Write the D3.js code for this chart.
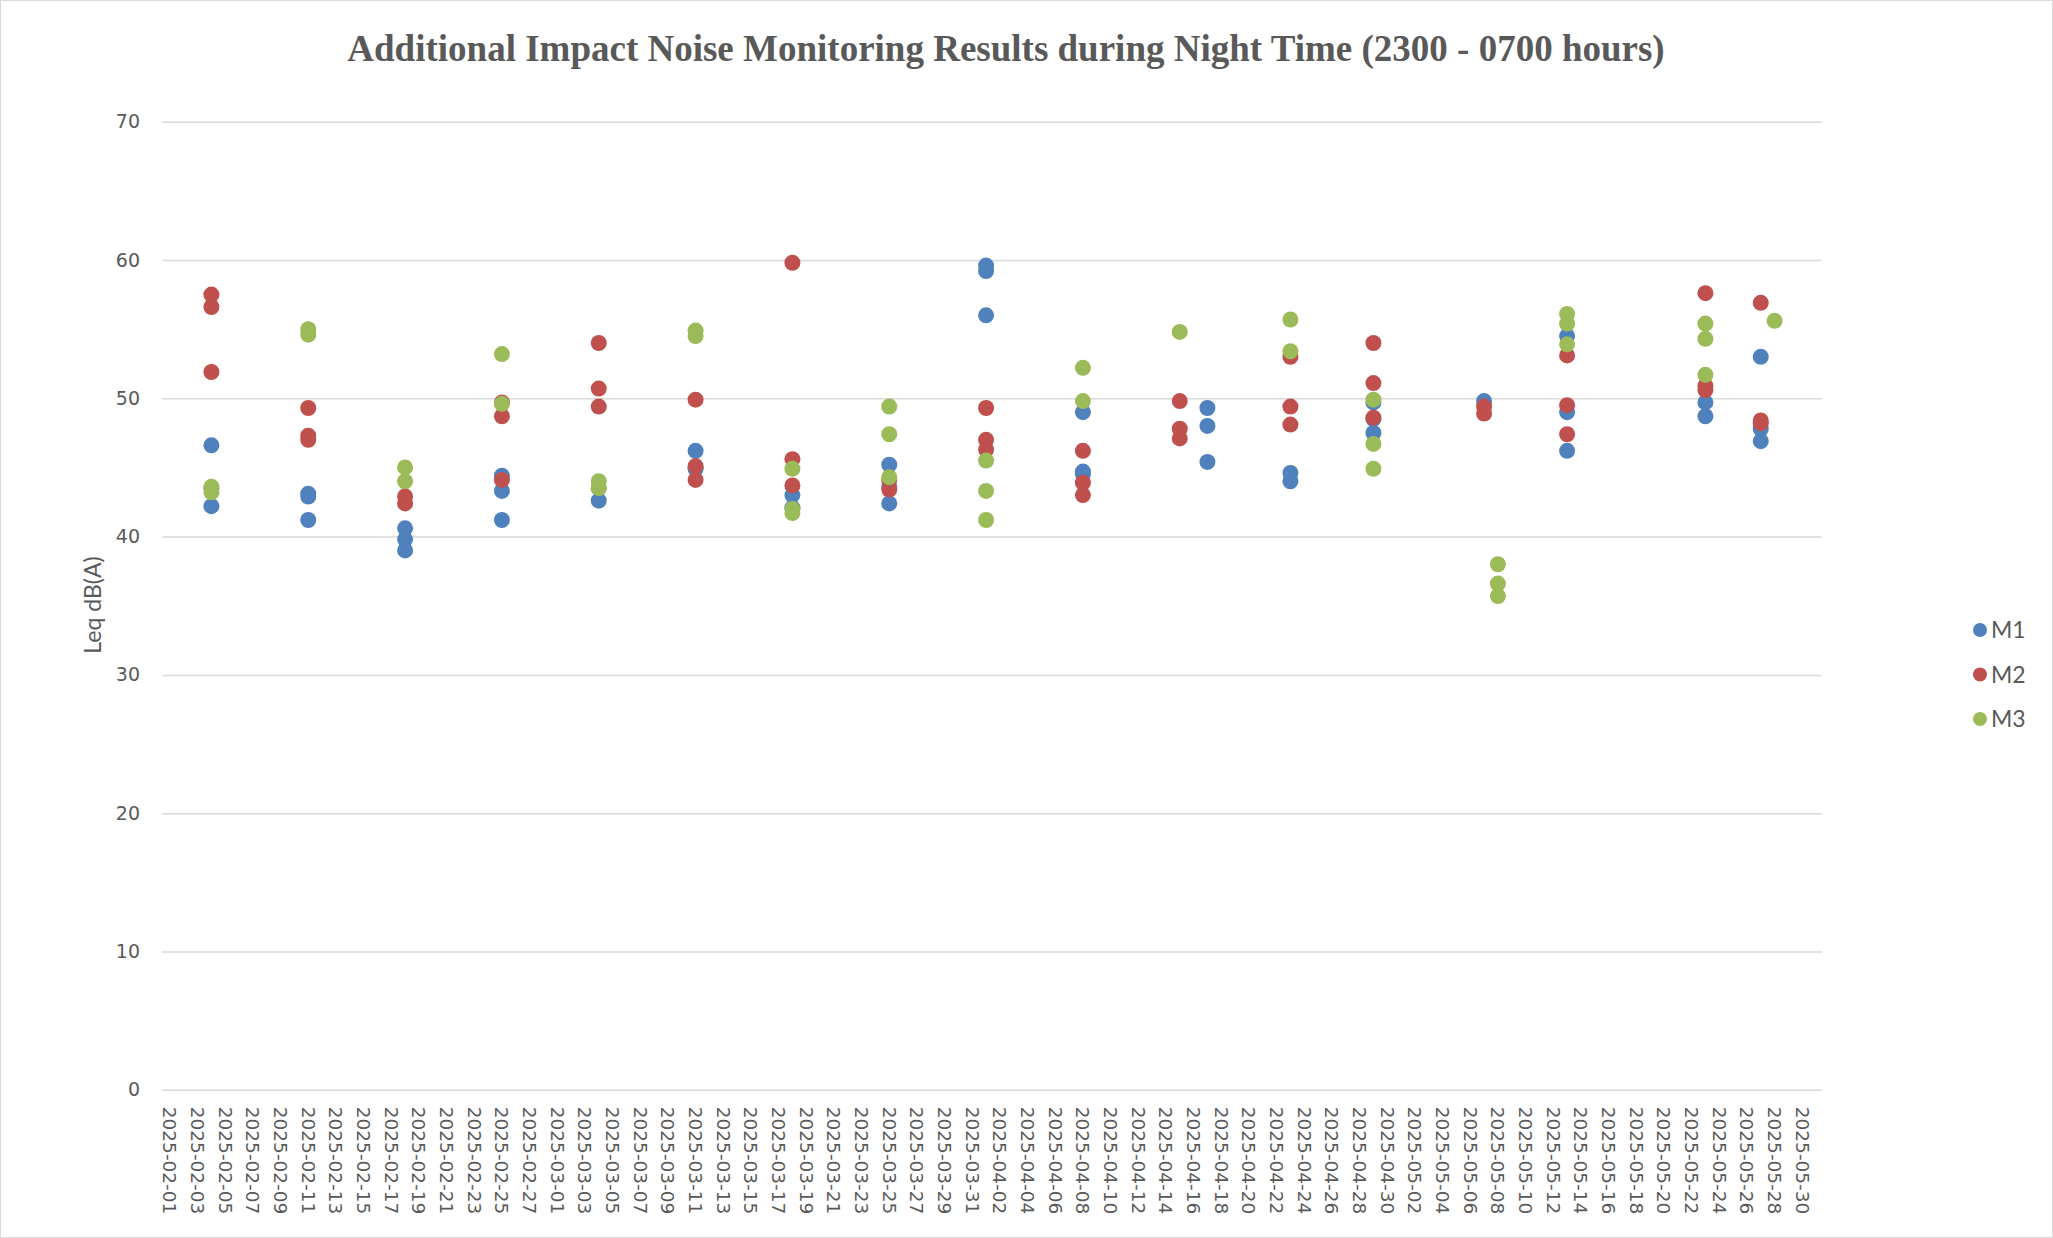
<!DOCTYPE html>
<html>
<head>
<meta charset="utf-8">
<script src="https://cdn.jsdelivr.net/npm/d3@7"></script>
<style>
  body { margin: 0; background: #fff; }
  svg { display: block; }
</style>
</head>
<body>
<svg width="2053" height="1238"></svg>
<script>
// series values, dates as yyyy-mm-dd
var m1Dates = ["2025-02-04","2025-02-04","2025-02-04","2025-02-11","2025-02-11","2025-02-11",
  "2025-02-18","2025-02-18","2025-02-18","2025-02-25","2025-02-25","2025-02-25",
  "2025-03-04","2025-03-04","2025-03-11","2025-03-11","2025-03-11","2025-03-18","2025-03-18",
  "2025-03-25","2025-03-25","2025-03-25","2025-04-01","2025-04-01","2025-04-01",
  "2025-04-08","2025-04-08","2025-04-08","2025-04-17","2025-04-17","2025-04-17",
  "2025-04-23","2025-04-23","2025-04-29","2025-04-29","2025-04-29","2025-05-07",
  "2025-05-13","2025-05-13","2025-05-13","2025-05-23","2025-05-23",
  "2025-05-27","2025-05-27","2025-05-27"];
var m1Values = [46.6,43.5,42.2, 43.1,42.9,41.2, 40.6,39.8,39.0, 44.4,43.3,41.2,
  43.5,42.6, 46.2,45.0,44.9, 43.0,42.1, 45.2,43.6,42.4, 59.6,59.2,56.0,
  49.0,44.7,44.5, 49.3,48.0,45.4, 44.6,44.0, 49.7,48.5,47.5, 49.8,
  54.5,49.0,46.2, 49.7,48.7, 53.0,47.8,46.9];

var m2Dates = ["2025-02-04","2025-02-04","2025-02-04","2025-02-11","2025-02-11","2025-02-11",
  "2025-02-18","2025-02-18","2025-02-25","2025-02-25","2025-02-25",
  "2025-03-04","2025-03-04","2025-03-04","2025-03-11","2025-03-11","2025-03-11",
  "2025-03-18","2025-03-18","2025-03-18","2025-03-25","2025-03-25",
  "2025-04-01","2025-04-01","2025-04-01","2025-04-08","2025-04-08","2025-04-08",
  "2025-04-15","2025-04-15","2025-04-15","2025-04-23","2025-04-23","2025-04-23",
  "2025-04-29","2025-04-29","2025-04-29","2025-05-07","2025-05-07",
  "2025-05-13","2025-05-13","2025-05-13","2025-05-23","2025-05-23","2025-05-23",
  "2025-05-27","2025-05-27","2025-05-27"];
var m2Values = [57.5,56.6,51.9, 49.3,47.3,47.0, 42.9,42.4, 49.7,48.7,44.1,
  54.0,50.7,49.4, 49.9,45.1,44.1, 59.8,45.6,43.7, 44.1,43.4,
  49.3,47.0,46.3, 46.2,43.9,43.0, 49.8,47.8,47.1, 53.0,49.4,48.1,
  54.0,51.1,48.6, 49.4,48.9, 53.1,49.5,47.4, 57.6,50.9,50.6,
  56.9,48.4,48.2];

var m3Dates = ["2025-02-04","2025-02-04","2025-02-11","2025-02-11","2025-02-18","2025-02-18",
  "2025-02-25","2025-02-25","2025-03-04","2025-03-04","2025-03-11","2025-03-11",
  "2025-03-18","2025-03-18","2025-03-18","2025-03-25","2025-03-25","2025-03-25",
  "2025-04-01","2025-04-01","2025-04-01","2025-04-08","2025-04-08","2025-04-15",
  "2025-04-23","2025-04-23","2025-04-29","2025-04-29","2025-04-29",
  "2025-05-08","2025-05-08","2025-05-08","2025-05-13","2025-05-13","2025-05-13",
  "2025-05-23","2025-05-23","2025-05-23","2025-05-28"];
var m3Values = [43.6,43.2, 55.0,54.6, 45.0,44.0, 53.2,49.6, 44.0,43.5, 54.9,54.5,
  44.9,42.0,41.7, 49.4,47.4,44.3, 45.5,43.3,41.2, 52.2,49.8, 54.8,
  55.7,53.4, 49.9,46.7,44.9, 38.0,36.6,35.7, 56.1,55.4,53.9,
  55.4,54.3,51.7, 55.6];

var seriesNames = ["M1", "M2", "M3"];
var seriesColors = ["#4f81bd", "#c0504d", "#9bbb59"];
var yTicks = [0, 10, 20, 30, 40, 50, 60, 70];
var axisStart = "2025-02-01", axisEnd = "2025-06-01"; // last slot is 2025-05-31

var svg = d3.select("svg"),
    width = +svg.attr("width"),
    height = +svg.attr("height");

var parse = d3.utcParse("%Y-%m-%d"),
    fmt = d3.utcFormat("%Y-%m-%d"),
    halfDay = 12 * 3600 * 1000;

var plot = {left: 162, right: 1822, top: 121.7, bottom: 1089.8};

var x = d3.scaleUtc()
    .domain([parse(axisStart), parse(axisEnd)])
    .range([plot.left + 1, plot.right + 1]);
var y = d3.scaleLinear()
    .domain([0, 70])
    .range([plot.bottom, plot.top]);

// chart border
svg.append("rect")
    .attr("x", 0.5).attr("y", 0.5)
    .attr("width", width - 1).attr("height", height - 1)
    .attr("fill", "#fff").attr("stroke", "#d9d9d9");

// title
svg.append("text")
    .attr("x", 1006).attr("y", 61)
    .attr("text-anchor", "middle")
    .style("font-family", "'Liberation Serif', 'Times New Roman', serif")
    .style("font-weight", "bold")
    .style("font-size", "37px")
    .style("fill", "#595959")
    .text("Additional Impact Noise Monitoring Results during Night Time (2300 - 0700 hours)");

// gridlines + y labels
var yAxis = d3.axisLeft(y).tickValues(yTicks).tickSize(-(plot.right - plot.left)).tickPadding(22);
svg.append("g")
    .attr("transform", "translate(" + plot.left + ",0)")
    .call(yAxis)
    .call(function (g) {
        g.select(".domain").remove();
        g.selectAll(".tick line").attr("stroke", "#d9d9d9").attr("stroke-width", 1.5);
        g.selectAll(".tick text")
            .style("font-family", "'DejaVu Sans', sans-serif")
            .style("font-size", "19px")
            .style("fill", "#595959");
    });

// x labels every 2 days, centered in the day slot, rotated
var xTicks = d3.utcDay.range(parse(axisStart), parse(axisEnd), 2);
var xAxis = d3.axisBottom(x).tickValues(xTicks).tickSize(0).tickFormat(fmt);
svg.append("g")
    .attr("transform", "translate(0," + plot.bottom + ")")
    .call(xAxis)
    .call(function (g) {
        g.select(".domain").remove();
        g.selectAll(".tick").attr("transform", function (d) {
            return "translate(" + x(new Date(+d + halfDay)) + ",0)";
        });
        g.selectAll(".tick text")
            .attr("transform", "rotate(90)")
            .attr("x", 17).attr("y", 0).attr("dy", "0.35em")
            .style("text-anchor", "start")
            .style("font-family", "'DejaVu Sans', sans-serif")
            .style("font-size", "18.5px")
            .style("fill", "#595959");
    });

// y axis title
svg.append("text")
    .attr("transform", "translate(101,605) rotate(-90)")
    .attr("text-anchor", "middle")
    .style("font-family", "Lato, 'Noto Sans', sans-serif")
    .style("font-size", "23px")
    .style("fill", "#595959")
    .text("Leq dB(A)");

// points, M1 first so M3 sits on top
var allDates = [m1Dates, m2Dates, m3Dates],
    allValues = [m1Values, m2Values, m3Values];

seriesNames.forEach(function (name, i) {
    var pts = allDates[i].map(function (d, j) {return {date: parse(d), value: allValues[i][j]};});
    svg.append("g").attr("class", "series-" + name)
        .selectAll("circle")
        .data(pts)
        .enter()
        .append("circle")
        .attr("cx", function (d) {return x(new Date(+d.date + halfDay));})
        .attr("cy", function (d) {return y(d.value);})
        .attr("r", 8)
        .style("fill", seriesColors[i]);
});

// legend
var legend = svg.append("g").attr("transform", "translate(1980,630)");
var item = legend.selectAll("g")
    .data(seriesNames)
    .enter()
    .append("g")
    .attr("transform", function (d, i) {return "translate(0," + i * 44.5 + ")";});
item.append("circle")
    .attr("r", 7)
    .style("fill", function (d, i) {return seriesColors[i];});
item.append("text")
    .attr("x", 11).attr("dy", "0.35em")
    .style("font-family", "Lato, 'Noto Sans', sans-serif")
    .style("font-size", "23px")
    .style("fill", "#595959")
    .text(function (d) {return d;});
</script>
</body>
</html>
